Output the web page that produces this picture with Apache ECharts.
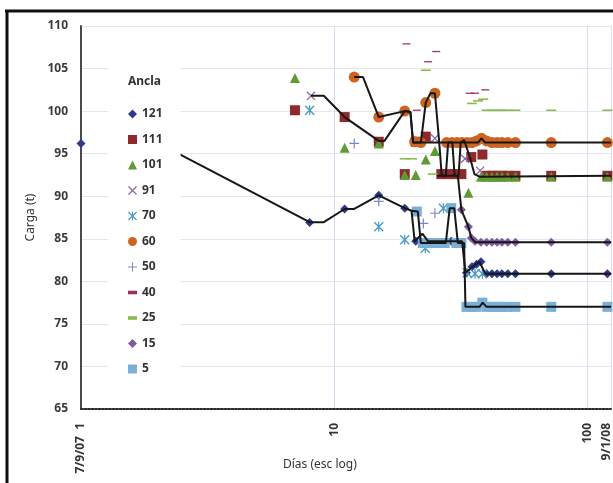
<!DOCTYPE html>
<html>
<head>
<meta charset="utf-8">
<script src="https://cdn.jsdelivr.net/npm/echarts@6/dist/echarts.min.js"></script>
<style>
  html, body { margin: 0; padding: 0; background: #fff; overflow: hidden; }
  #main { width: 613px; height: 483px; }
</style>
</head>
<body>
<div id="main"></div>
<script>
// anclas (marcadores) : [dias, carga t]
var ancla121 = [[1, 96.2], [8.0, 86.9], [11.0, 88.5], [15.0, 90.1], [19.0, 88.6], [21.0, 84.7], [29.0, 84.7],
  [33.3, 81.0], [35.0, 81.7], [36.5, 82.0], [38.0, 82.3], [40, 80.9], [42, 80.9], [44, 80.9], [46, 80.9],
  [48.5, 80.9], [52, 80.9], [72, 80.9], [120, 80.9]];
var ancla111 = [[7.0, 100.1], [11.0, 99.3], [15.0, 96.4], [19.0, 92.6], [21.0, 96.4], [23.0, 97.0],
  [26.5, 92.6], [28.2, 92.6], [30.1, 92.6], [31.8, 92.6], [34.8, 94.6], [38.5, 94.9], [40, 92.4], [42, 92.4],
  [44, 92.4], [46, 92.4], [48.5, 92.4], [52, 92.4], [72, 92.4], [120, 92.4]];
var ancla101 = [[7.0, 103.9], [11.0, 95.7], [15.0, 96.2], [19.0, 92.5], [21.0, 92.5], [23.0, 94.3], [25.0, 95.3],
  [33.9, 90.4], [38, 92.3], [40, 92.3], [42, 92.3], [44, 92.3], [46, 92.3], [48.5, 92.3], [52, 92.3],
  [72, 92.3], [120, 92.3]];
var ancla91 = [[8.1, 101.8], [25.0, 96.8], [32.9, 94.4], [37.7, 93.0]];
var ancla70 = [[8.0, 100.1], [15.0, 86.4], [19.0, 84.9], [22.9, 83.9], [27.0, 88.6], [33.5, 81.0], [36.0, 80.9], [38.5, 80.9]];
var ancla60 = [[12.0, 104.0], [15.0, 99.3], [19.0, 100.0], [20.8, 96.4], [22.0, 96.3], [23.0, 101.0], [25.0, 102.1],
  [27.8, 96.3], [29.2, 96.3], [30.6, 96.3], [32.0, 96.3], [33.5, 96.3], [35.0, 96.3], [36.5, 96.5], [38.2, 96.8],
  [40, 96.5], [42, 96.3], [44, 96.3], [46, 96.3], [48.5, 96.3], [52, 96.3], [72, 96.3], [120, 96.3]];
var ancla50 = [[12.0, 96.2], [15.0, 89.4], [22.5, 86.8], [25.0, 88.0]];
var ancla40 = [[19.3, 107.9], [23.5, 105.8], [25.3, 107.0], [21.2, 100.1], [34.3, 102.1], [36.0, 102.1], [39.5, 102.5]];
var ancla25 = [[23.0, 104.8], [19.0, 94.4], [20.3, 94.4], [24.5, 92.6], [35.0, 100.9], [37.0, 101.2], [38.8, 101.4],
  [40, 100.1], [42, 100.1], [44, 100.1], [46, 100.1], [48.5, 100.1], [52, 100.1], [72, 100.1], [120, 100.1]];
var ancla15 = [[31.8, 88.4], [33.9, 86.4], [34.8, 85.1], [36, 84.7], [38, 84.6], [40, 84.6], [42, 84.6], [44, 84.6],
  [46, 84.6], [48.5, 84.6], [52, 84.6], [72, 84.6], [120, 84.6]];
var ancla5 = [[21.2, 88.2], [22.4, 84.5], [23.6, 84.5], [24.8, 84.5], [26.0, 84.5], [27.3, 84.5], [29.0, 88.6],
  [30.4, 84.5], [31.8, 84.5], [33.3, 77.0], [35, 77.0], [36.5, 77.0], [38.5, 77.5], [40, 77.0], [42, 77.0],
  [44, 77.0], [46, 77.0], [48.5, 77.0], [52, 77.0], [72, 77.0], [120, 77.0]];

// trazas negras
var traza121 = [[1.40, 98.7], [8.0, 86.95], [9.1, 86.95], [11.0, 88.5], [12.0, 88.5], [15.0, 90.1], [19.0, 88.6],
  [20.2, 88.3], [20.8, 84.7], [22.3, 85.6], [23.5, 84.7], [32.0, 84.7], [33.0, 81.0], [35.5, 81.8], [37.5, 82.3],
  [39.5, 80.9], [124, 80.9]];
var traza5 = [[20.2, 88.3], [21.4, 88.2], [22.0, 84.5], [27.6, 84.5], [28.6, 88.6], [29.8, 88.6], [30.8, 84.5],
  [32.6, 84.5], [33.0, 77.0], [37.5, 77.0], [38.6, 77.5], [40, 77.0], [124, 77.0]];
var traza60 = [[12.0, 104.0], [13.0, 104.0], [15.0, 99.3], [19.0, 100.0], [20.0, 99.9], [20.5, 96.3], [22.0, 96.3],
  [23.0, 101.0], [24.0, 102.1], [25.0, 102.1], [26.0, 96.3], [37.0, 96.3], [38.2, 96.8], [39.5, 96.3], [124, 96.3]];
var traza111 = [[8.1, 101.8], [9.1, 101.8], [11.0, 99.3], [15.0, 96.5], [15.8, 96.5], [19.0, 100.0], [20.0, 99.9],
  [20.5, 96.3], [26.0, 96.3], [26.6, 92.4], [27.6, 92.4], [28.2, 96.3], [29.3, 96.3], [29.9, 92.4], [31.0, 92.4],
  [31.6, 96.3], [32.6, 96.6], [34.5, 94.4], [35.8, 92.6], [37.5, 92.3], [124, 92.4]];
var traza15 = [[25.5, 92.4], [30.8, 92.4], [31.8, 88.4], [33.9, 86.4], [34.8, 85.1], [36.0, 84.6], [124, 84.6]];

var yTicks = [65, 70, 75, 80, 85, 90, 95, 100, 105, 110];

var font = 'Noto Sans';
var symCruz = 'path://M0,1L1,0L10,9L9,10Z M9,0L10,1L1,10L0,9Z';
var symAst = 'path://M0,1L1,0L10,9L9,10Z M9,0L10,1L1,10L0,9Z M4.4,0L5.6,0L5.6,10L4.4,10Z';
var symMas = 'path://M4.4,0h1.2v4.4h4.4v1.2h-4.4v4.4h-1.2v-4.4h-4.4v-1.2h4.4Z';
var symGuion = 'path://M0,0h10v4h-10Z';

function marcas(name, data, symbol, size, color) {
  return {
    name: name, type: 'scatter', data: data, symbol: symbol, symbolSize: size,
    symbolKeepAspect: true, itemStyle: { color: color, opacity: 1 }, z: 2
  };
}
function traza(data) {
  return {
    type: 'line', data: data, symbol: 'none', silent: true, z: 3,
    lineStyle: { color: '#161616', width: 2 }
  };
}

var chart = echarts.init(document.getElementById('main'));
var option = {
  animation: false,
  textStyle: { fontFamily: font },
  title: [
    { text: 'Ancla', left: 128, top: 76, padding: 0,
      textStyle: { fontSize: 12, fontWeight: 'bold', color: '#333', fontFamily: font } },
    { text: 'Días (esc log)', left: 283, top: 459, padding: 0,
      textStyle: { fontSize: 12, fontWeight: 'normal', color: '#333', fontFamily: font } }
  ],
  legend: {
    orient: 'vertical', left: 108, top: 62,
    padding: [46, 18, 15, 20],
    backgroundColor: '#fff',
    itemWidth: 9, itemHeight: 9, itemGap: 13.5,
    textStyle: { fontSize: 12, fontWeight: 'bold', color: '#333', lineHeight: 9, fontFamily: font },
    data: ['121', '111', '101', '91', '70', '60', '50', '40', '25', '15', '5']
  },
  grid: { left: 81, right: 0, top: 26, bottom: 74 },
  xAxis: {
    type: 'log', logBase: 10, min: 1, max: 124,
    axisLine: { lineStyle: { color: '#2a2a2a', width: 1.8, type: [2, 1.5] } },
    axisTick: { show: false },
    splitLine: { show: true, lineStyle: { color: '#d9dcef', width: 1 } },
    axisLabel: {
      rotate: 90, margin: 14, fontSize: 12, fontWeight: 'bold', color: '#333', showMaxLabel: true,
      formatter: function (v) {
        if (v < 1.5) return '7/9/07  1';
        if (v > 110) return '{d|9/1/08}';
        return String(Math.round(v));
      },
      rich: { d: { fontSize: 12, fontWeight: 'bold', color: '#333', padding: [0, 0, 8, 0] } }
    }
  },
  yAxis: {
    type: 'value', min: yTicks[0], max: yTicks[yTicks.length - 1], interval: 5,
    name: 'Carga (t)', nameLocation: 'middle', nameGap: 44,
    nameTextStyle: { fontSize: 12, color: '#333' },
    axisLine: { show: true, lineStyle: { color: '#4a4a4a', width: 2 } },
    axisTick: { show: false },
    splitLine: { lineStyle: { color: '#e4e6f3', width: 1 } },
    axisLabel: { margin: 13, fontSize: 12, fontWeight: 'bold', color: '#3a3a3a' }
  },
  graphic: [
    { type: 'line', shape: { x1: 5, y1: 11, x2: 613, y2: 11 }, style: { stroke: '#111', lineWidth: 3 }, z: 100 },
    { type: 'line', shape: { x1: 7, y1: 11, x2: 7, y2: 483 }, style: { stroke: '#111', lineWidth: 3 }, z: 100 }
  ],
  series: [
    marcas('121', ancla121, 'diamond', 9, '#2e3a8c'),
    marcas('111', ancla111, 'rect', 10, '#8e2a2c'),
    marcas('101', ancla101, 'triangle', 10, '#5f9a35'),
    marcas('91', ancla91, symCruz, 9, '#8a68a6'),
    marcas('70', ancla70, symAst, 10, '#4a9cc4'),
    marcas('60', ancla60, 'circle', 11, '#cc6422'),
    marcas('50', ancla50, symMas, 10, '#7a88cc'),
    marcas('40', ancla40, symGuion, [8, 3.2], '#9c3550'),
    marcas('25', ancla25, symGuion, [10, 4], '#8dba4f'),
    marcas('15', ancla15, 'diamond', 9, '#7e5c9e'),
    marcas('5', ancla5, 'rect', 10, '#7aafd6'),
    traza(traza121),
    traza(traza5),
    traza(traza60),
    traza(traza111),
    traza(traza15)
  ]
};
chart.setOption(option);
</script>
</body>
</html>
